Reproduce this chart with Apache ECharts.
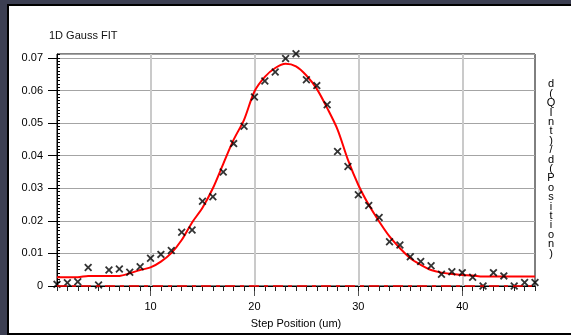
<!DOCTYPE html>
<html>
<head>
<meta charset="utf-8">
<script src="https://cdn.jsdelivr.net/npm/echarts@6/dist/echarts.min.js"></script>
<style>
  html, body { margin: 0; padding: 0; }
  body { width: 571px; height: 335px; background: #3c3f52; position: relative; overflow: hidden; }
  .panel { position: absolute; left: 7px; top: 4px; width: 570px; height: 327px; background: #fff;
           border-top: 2px solid #000; border-left: 2px solid #000; border-bottom: 2px solid #000; }
  #chart { position: absolute; left: 0; top: 0; width: 571px; height: 335px; }
</style>
</head>
<body>
<div class="panel"></div>
<div id="chart"></div>
<script>
  // step positions (um)
  const stepPos = [1, 2, 3, 4, 5, 6, 7, 8, 9, 10, 11, 12, 13, 14, 15, 16, 17, 18, 19, 20, 21, 22, 23, 24,
    25, 26, 27, 28, 29, 30, 31, 32, 33, 34, 35, 36, 37, 38, 39, 40, 41, 42, 43, 44, 45, 46, 47];
  // measured d(QInt)/d(Position)
  const measured = [0.0005, 0.0010, 0.0013, 0.0057, 0.0003, 0.0049, 0.0052, 0.0042, 0.0059, 0.0085,
    0.0097, 0.0109, 0.0165, 0.0172, 0.0260, 0.0274, 0.0350, 0.0437, 0.0490, 0.0580, 0.0629, 0.0657,
    0.0698, 0.0713, 0.0633, 0.0615, 0.0556, 0.0413, 0.0367, 0.0280, 0.0247, 0.0210, 0.0136, 0.0126,
    0.0090, 0.0075, 0.0062, 0.0036, 0.0044, 0.0041, 0.0027, 0.0000, 0.0041, 0.0031, 0.0000, 0.0011, 0.0011];
  // gauss fit curve
  const gaussFit = [0.0027, 0.0027, 0.0027, 0.0031, 0.0031, 0.0031, 0.0031, 0.0039, 0.0049, 0.0057,
    0.0075, 0.0101, 0.0141, 0.0195, 0.0240, 0.0300, 0.0375, 0.0449, 0.0510, 0.0597, 0.0642, 0.0669,
    0.0682, 0.0674, 0.0646, 0.0605, 0.0546, 0.0480, 0.0387, 0.0310, 0.0249, 0.0198, 0.0152, 0.0116,
    0.0085, 0.0065, 0.0049, 0.0041, 0.0037, 0.0034, 0.0032, 0.0029, 0.0029, 0.0029, 0.0029, 0.0029, 0.0029];
  const zeroLevel = 0.0003;
  const xTickLabels = [10, 20, 30, 40];

  const font = '"Liberation Sans", Arial, sans-serif';
  const crossSymbol = 'path://M0,1.6L1.6,0L5,3.4L8.4,0L10,1.6L6.6,5L10,8.4L8.4,10L5,6.6L1.6,10L0,8.4L3.4,5Z';

  let chart = echarts.init(document.getElementById('chart'));
  chart.setOption({
    animation: false,
    title: {
      text: '1D Gauss FIT',
      left: 49, top: 30, padding: 0,
      textStyle: { fontFamily: font, fontSize: 11, fontWeight: 'normal', color: '#111' }
    },
    grid: {
      left: 57, right: 36, top: 54, bottom: 49,
      show: true, borderColor: '#000', borderWidth: 1, backgroundColor: 'transparent'
    },
    graphic: [{
      type: 'text',
      x: 551, y: 169,
      style: {
        text: 'd(QInt)/d(Position)'.split('').join('\n'),
        font: '11px ' + font,
        lineHeight: 9.4,
        align: 'center',
        verticalAlign: 'middle',
        fill: '#000'
      }
    }],
    xAxis: [{
      type: 'value', min: 1, max: 47, position: 'bottom',
      name: 'Step Position (um)', nameLocation: 'middle', nameGap: 32,
      nameTextStyle: { fontFamily: font, fontSize: 11, color: '#000' },
      axisLine: { lineStyle: { color: '#000', width: 1 } },
      axisTick: { customValues: xTickLabels, length: 10, lineStyle: { color: '#555' } },
      axisLabel: { customValues: xTickLabels, margin: 15, fontFamily: font, fontSize: 11, color: '#000' },
      splitLine: { show: true, lineStyle: { color: '#cacaca', width: 2 } }
    }, {
      // minor ticks, one per step
      type: 'value', min: 1, max: 47, interval: 1, position: 'bottom',
      axisLine: { show: false },
      axisTick: { show: true, length: 5, lineStyle: { color: '#222' } },
      axisLabel: { show: false },
      splitLine: { show: false }
    }],
    yAxis: [{
      type: 'value', min: 0, max: 0.0712, interval: 0.01, position: 'left',
      axisLine: { show: true, lineStyle: { color: '#000', width: 1 } },
      axisTick: { show: true, length: 9, lineStyle: { color: '#000' } },
      axisLabel: { margin: 14, showMaxLabel: false, fontFamily: font, fontSize: 11, color: '#000' },
      splitLine: { show: true, lineStyle: { color: '#a4a4a4', width: 1 } }
    }, {
      // minor ticks every 0.001
      type: 'value', min: 0, max: 0.0712, interval: 0.001, position: 'left',
      axisLine: { show: false },
      axisTick: { show: true, inside: true, length: 3, lineStyle: { color: '#000' } },
      axisLabel: { show: false },
      splitLine: { show: false }
    }],
    series: [{
      name: 'fit',
      type: 'line',
      xAxisIndex: 0, yAxisIndex: 0,
      data: stepPos.map((x, i) => [x, gaussFit[i]]),
      showSymbol: false,
      smooth: 0.3,
      lineStyle: { color: '#ff0000', width: 2 },
      z: 3,
      markLine: {
        silent: true,
        symbol: 'none',
        label: { show: false },
        lineStyle: { color: '#ff0000', width: 1.5, type: [10, 5, 4, 5] },
        data: [{ yAxis: zeroLevel }]
      }
    }, {
      name: 'measured',
      type: 'scatter',
      xAxisIndex: 0, yAxisIndex: 0,
      data: stepPos.map((x, i) => [x, measured[i]]),
      symbol: crossSymbol,
      symbolSize: 8,
      clip: false,
      itemStyle: { color: '#000' },
      z: 4
    }]
  });
</script>
</body>
</html>
